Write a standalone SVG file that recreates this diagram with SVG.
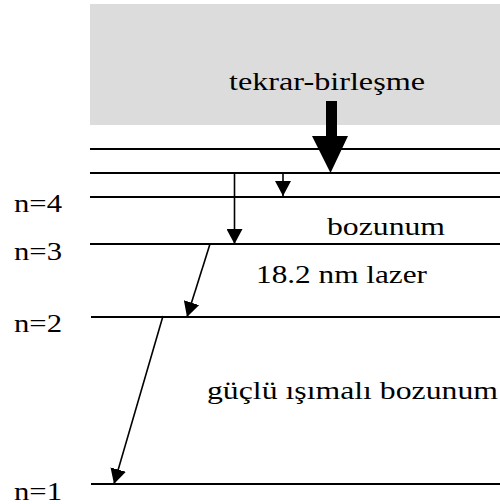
<svg xmlns="http://www.w3.org/2000/svg" width="500" height="504" viewBox="0 0 500 504">
<style>
.lv{stroke:#000;stroke-width:2;fill:none}
.ar{stroke:#000;stroke-width:1.6;fill:none;marker-end:url(#ah)}
</style>
<defs>
<marker id="ah" markerUnits="userSpaceOnUse" markerWidth="16" markerHeight="16" viewBox="0 0 16 16" refX="15" refY="8" orient="auto">
<path d="M0,0 L15,8 L0,16 Z" fill="#000"/>
</marker>
</defs>
<g id="continuum">
<rect x="90" y="4" width="410" height="121" fill="#dcdcdc"/>
<text x="229" y="90" font-family="Times New Roman, Liberation Serif, serif" font-size="25" textLength="196" lengthAdjust="spacingAndGlyphs">tekrar-birleşme</text>
</g>
<g id="levels">
<line class="lv" x1="90" y1="149" x2="500" y2="149"/>
<line class="lv" x1="90" y1="173" x2="500" y2="173"/>
<g id="n4"><line class="lv" x1="90" y1="197" x2="500" y2="197"/><text x="14" y="212" font-family="Times New Roman, Liberation Serif, serif" font-size="25" textLength="48" lengthAdjust="spacingAndGlyphs">n=4</text></g>
<g id="n3"><line class="lv" x1="90" y1="244" x2="500" y2="244"/><text x="14" y="260" font-family="Times New Roman, Liberation Serif, serif" font-size="25" textLength="48" lengthAdjust="spacingAndGlyphs">n=3</text></g>
<g id="n2"><line class="lv" x1="91" y1="317" x2="500" y2="317"/><text x="14" y="332" font-family="Times New Roman, Liberation Serif, serif" font-size="25" textLength="48" lengthAdjust="spacingAndGlyphs">n=2</text></g>
<g id="n1"><line class="lv" x1="91" y1="484" x2="500" y2="484"/><text x="14" y="500" font-family="Times New Roman, Liberation Serif, serif" font-size="25" textLength="48" lengthAdjust="spacingAndGlyphs">n=1</text></g>
</g>
<g id="labels">
<text x="327" y="235" font-family="Times New Roman, Liberation Serif, serif" font-size="25" textLength="118" lengthAdjust="spacingAndGlyphs">bozunum</text>
<text x="256" y="283" font-family="Times New Roman, Liberation Serif, serif" font-size="25" textLength="171" lengthAdjust="spacingAndGlyphs">18.2 nm lazer</text>
<text x="207" y="399" font-family="Times New Roman, Liberation Serif, serif" font-size="25" textLength="291" lengthAdjust="spacingAndGlyphs">güçlü ışımalı bozunum</text>
</g>
<g id="connectors">
<polygon points="326,101 337,101 337,136 348,136 330.5,173 312,136 326,136" fill="#000"/>
<line class="ar" x1="234.5" y1="173" x2="234.5" y2="244"/>
<line class="ar" x1="283" y1="173" x2="283" y2="196"/>
<line class="ar" x1="210" y1="244" x2="187" y2="317"/>
<line class="ar" x1="163" y1="316" x2="114" y2="484"/>
</g>
</svg>
